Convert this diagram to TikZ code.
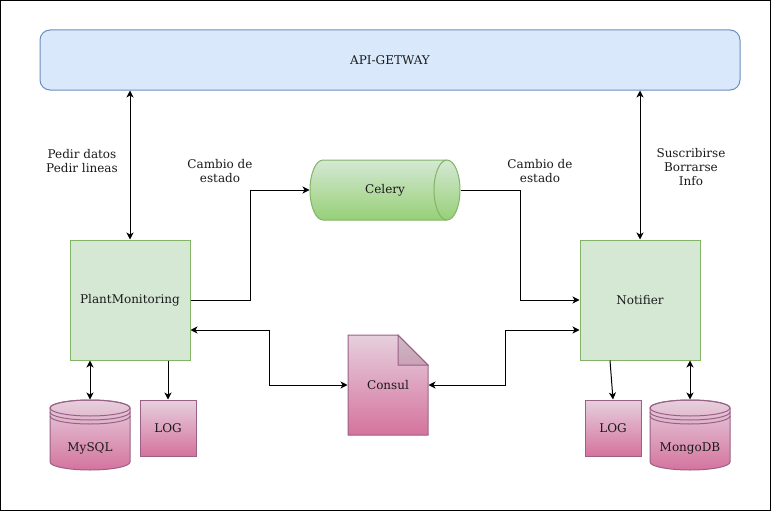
\documentclass[tikz,border=0pt]{standalone}
\usepackage{fontspec}
\setmainfont{DejaVu Serif}
\usetikzlibrary{arrows.meta,calc}
\definecolor{bluefill}{HTML}{DAE8FC}
\definecolor{bluestroke}{HTML}{6C8EBF}
\definecolor{greenfill}{HTML}{D5E8D4}
\definecolor{greenstroke}{HTML}{82B366}
\definecolor{greendark}{HTML}{97D077}
\definecolor{pinktop}{HTML}{E6D0DE}
\definecolor{pinkbot}{HTML}{D5739D}
\definecolor{pinkstroke}{HTML}{996185}
\definecolor{txt}{HTML}{1A1A1A}
\begin{document}
\begin{tikzpicture}[x=1pt,y=-1pt,line width=1pt,
  every node/.style={font=\fontsize{12}{14}\selectfont,text=txt,inner sep=0pt,align=center},
  box/.style={draw,minimum width=#1},
  gbox/.style={draw=greenstroke,fill=greenfill,minimum width=120pt,minimum height=120pt},
  pbox/.style={draw=pinkstroke,top color=pinktop,bottom color=pinkbot,minimum width=56pt,minimum height=56pt},
  ghost/.style={minimum width=#1},
  arr/.style={-{Stealth[length=7pt,width=7pt,inset=2pt]}},
  arrb/.style={{Stealth[length=7pt,width=7pt,inset=2pt]}-{Stealth[length=7pt,width=7pt,inset=2pt]}},
  lbl/.style={}]
\useasboundingbox (0,0) rectangle (771,511);
\draw[black] (0.5,0.5) rectangle (770.5,510.5);

% API gateway
\node[draw=bluestroke,fill=bluefill,rounded corners=10pt,minimum width=700pt,minimum height=60pt] (api) at (390,60) {API-GETWAY};

% main boxes
\node[gbox] (pm) at (130,300) {PlantMonitoring};
\node[gbox] (nt) at (640,300) {Notifier};

% Celery cylinder
\path[draw=greenstroke,top color=greenfill,bottom color=greendark]
  (323,160) -- (447,160) arc(-90:90:13 and 30) -- (323,220) arc(90:270:13 and 30) -- cycle;
\draw[greenstroke] (447,160) arc(270:90:13 and 30);
\node[minimum width=150pt,minimum height=60pt] (celery) at (385,190) {Celery};

% Consul document
\path[draw=pinkstroke,top color=pinktop,bottom color=pinkbot]
  (348,335) -- (398,335) -- (428,365) -- (428,435) -- (348,435) -- cycle;
\path[draw=pinkstroke,fill=black,fill opacity=0.1] (398,335) -- (398,365) -- (428,365) -- cycle;
\node[minimum width=80pt,minimum height=100pt] (consul) at (388,385) {Consul};

% MySQL datastore
\path[draw=pinkstroke,top color=pinktop,bottom color=pinkbot]
  (50,408) -- (50,462) arc(180:0:40 and 8) -- (130,408) arc(0:-180:40 and 8) -- cycle;
\draw[pinkstroke] (90,408) ellipse (40 and 8);
\draw[pinkstroke] (50,412) arc(180:0:40 and 8);
\draw[pinkstroke] (50,416) arc(180:0:40 and 8);
\node[minimum width=80pt,minimum height=70pt] (mysql) at (90,435) {};
\node at (90,448) {MySQL};

% MongoDB datastore
\path[draw=pinkstroke,top color=pinktop,bottom color=pinkbot]
  (650,408) -- (650,462) arc(180:0:40 and 8) -- (730,408) arc(0:-180:40 and 8) -- cycle;
\draw[pinkstroke] (690,408) ellipse (40 and 8);
\draw[pinkstroke] (650,412) arc(180:0:40 and 8);
\draw[pinkstroke] (650,416) arc(180:0:40 and 8);
\node[minimum width=80pt,minimum height=70pt] (mongo) at (690,435) {};
\node at (690,448) {MongoDB};

% LOG boxes
\node[pbox] (log1) at (168,428) {LOG};
\node[pbox] (log2) at (613,428) {LOG};

% labels
\node[lbl] (l1) at (82,161) {Pedir datos\\Pedir lineas};
\node[lbl] (l2) at (220,171) {Cambio de\\estado};
\node[lbl] (l3) at (540,171) {Cambio de\\estado};
\node[lbl] (l4) at (691,167) {Suscribirse\\Borrarse\\Info};

% connectors
\draw[arrb] (pm.north |- api.south) -- (pm.north);
\draw[arrb] (nt.north |- api.south) -- (nt.north);
\draw[arr] (pm.east) -- ++(60,0) |- (celery.west);
\draw[arr] (celery.east) -- ++(60,0) |- (nt.west);
\draw[arrb] ([shift={(0,30)}]pm.east) -- ++(79,0) |- (consul.west);
\draw[arrb] (consul.east) -- ++(77,0) |- ([shift={(0,30)}]nt.west);
\draw[arrb] (mysql.north |- pm.south) -- (mysql.north);
\draw[arr] (log1.north |- pm.south) -- (log1.north);
\draw[arr] ([shift={(-30,0)}]nt.south) -- (log2.north);
\draw[arrb] (mongo.north |- nt.south) -- (mongo.north);
\end{tikzpicture}
\end{document}
